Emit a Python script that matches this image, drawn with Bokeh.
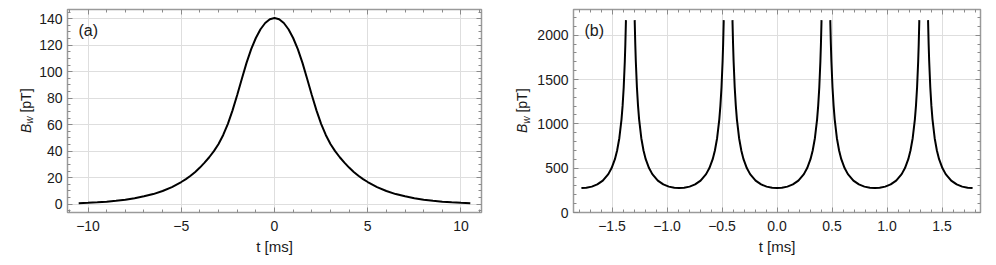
import math
from bokeh.plotting import figure
from bokeh.layouts import row
from bokeh.models import (LinearAxis, SingleIntervalTicker, CustomJSTickFormatter,
                          Label, Range1d, Grid, BasicTickFormatter)
from bokeh.core.properties import value
from bokeh.embed import file_html
from bokeh.resources import INLINE

# ---------------- data ----------------
# panel (a): single pulse
a_t_ms = [-10.5, -10.0, -9.5, -9.0, -8.5, -8.0, -7.5, -7.0, -6.5, -6.0, -5.5,
          -5.0, -4.75, -4.5, -4.25, -4.0, -3.75, -3.5, -3.25, -3.0, -2.75,
          -2.5, -2.25, -2.0, -1.75, -1.5, -1.25, -1.0, -0.75, -0.5, -0.25,
          0.0,
          0.25, 0.5, 0.75, 1.0, 1.25, 1.5, 1.75, 2.0, 2.25, 2.5,
          2.75, 3.0, 3.25, 3.5, 3.75, 4.0, 4.25, 4.5, 4.75, 5.0,
          5.5, 6.0, 6.5, 7.0, 7.5, 8.0, 8.5, 9.0, 9.5, 10.0, 10.5]
a_B_pT = [0.7, 1.0, 1.4, 1.9, 2.6, 3.4, 4.5, 5.9, 7.6, 9.9, 12.9,
          16.7, 18.9, 21.4, 24.3, 27.6, 31.3, 35.4, 40.0, 45.4, 52.2,
          60.6, 70.8, 82.4, 94.7, 106.6, 117.0, 125.4, 132.0, 136.7, 139.6,
          140.5,
          139.6, 136.7, 132.0, 125.4, 117.0, 106.6, 94.7, 82.4, 70.8, 60.6,
          52.2, 45.4, 40.0, 35.4, 31.3, 27.6, 24.3, 21.4, 18.9, 16.7,
          12.9, 9.9, 7.6, 5.9, 4.5, 3.4, 2.6, 1.9, 1.4, 1.0, 0.7]

# panel (b): periodic divergent field, profile read vs. distance from each pole
b_dist_ms = [0.0397, 0.045, 0.05, 0.06, 0.07, 0.08, 0.10, 0.12, 0.14,
             0.17, 0.20, 0.25, 0.30, 0.35, 0.40, 0.4445]
b_B_pT = [2170, 1904, 1707, 1413, 1205, 1051, 838, 699, 601,
          501, 433, 360, 317, 292, 279, 275]
b_poles_ms = [-1.3335, -0.4445, 0.4445, 1.3335]

# ---------------- build panel (b) branches ----------------
def left_branch(p):
    return [p - d for d in reversed(b_dist_ms)], list(reversed(b_B_pT))

def right_branch(p):
    return [p + d for d in b_dist_ms], list(b_B_pT)

bx, by = [], []
lx, ly = left_branch(b_poles_ms[0])
bx += lx; by += ly
for i, p in enumerate(b_poles_ms):
    bx.append(float("nan")); by.append(float("nan"))
    rx, ry = right_branch(p)
    bx += rx; by += ry
    if i + 1 < len(b_poles_ms):
        lx, ly = left_branch(b_poles_ms[i + 1])
        bx += lx[1:]; by += ly[1:]

FONT = "Liberation Sans"
TXT = "#1a1a1a"
FRAME = "#9a9a9a"
TICK = "#8a8a8a"
GRID = "#dedede"
H = 257
TOP, BOT = 9, 45          # frame borders (all frames in the row share them)
FH = H - TOP - BOT        # frame height in px


def style_axis(ax, labels):
    ax.axis_line_color = None
    ax.major_tick_in = 5
    ax.major_tick_out = 0
    ax.minor_tick_in = 3
    ax.minor_tick_out = 0
    ax.major_tick_line_color = TICK
    ax.minor_tick_line_color = TICK
    if labels:
        ax.major_label_text_font = FONT
        ax.major_label_text_font_size = "14px"
        ax.major_label_text_color = TXT
    else:
        ax.major_label_text_font_size = "1px"
        ax.major_label_text_color = None
        ax.major_label_standoff = 0


def make_panel(width, xr, yr, xint, yint, xminor, yminor, xfmt_code,
               bl, br, xs, ys, letter):
    p = figure(width=width, height=H,
               x_range=Range1d(*xr), y_range=Range1d(*yr),
               x_axis_type=None, y_axis_type=None,
               output_backend="svg", toolbar_location=None,
               min_border_left=bl, min_border_right=br,
               min_border_top=TOP, min_border_bottom=BOT)
    p.outline_line_color = FRAME
    p.outline_line_width = 1.5
    xt = SingleIntervalTicker(interval=xint, num_minor_ticks=xminor)
    yt = SingleIntervalTicker(interval=yint, num_minor_ticks=yminor)
    p.add_layout(Grid(dimension=0, ticker=xt, grid_line_color=GRID))
    p.add_layout(Grid(dimension=1, ticker=yt, grid_line_color=GRID))
    xb = LinearAxis(ticker=xt, formatter=CustomJSTickFormatter(code=xfmt_code))
    style_axis(xb, True)
    xb.major_label_standoff = 8
    xb.axis_label = "t [ms]"
    xb.axis_label_text_font = FONT
    xb.axis_label_text_font_size = "15px"
    xb.axis_label_text_font_style = "normal"
    xb.axis_label_text_color = TXT
    xb.axis_label_standoff = 4
    p.add_layout(xb, "below")
    yl = LinearAxis(ticker=yt, formatter=BasicTickFormatter())
    style_axis(yl, True)
    yl.major_label_standoff = 5
    p.add_layout(yl, "left")
    xa = LinearAxis(ticker=xt); style_axis(xa, False); p.add_layout(xa, "above")
    ya = LinearAxis(ticker=yt); style_axis(ya, False); p.add_layout(ya, "right")
    p.line(xs, ys, line_color="black", line_width=2)
    p.add_layout(Label(x=11, y=FH - 20.5, x_units="screen", y_units="screen",
                       text=letter, text_font=FONT, text_font_size="16px",
                       text_color=TXT, text_baseline="middle", text_align="left"))
    return p


def ylabel_fig(width, x_mid):
    """Narrow strip (frame aligned with the panels) carrying the label B_w [pT].
    Strip coordinates are pixels: x from the strip's left, y up from the frame bottom."""
    f = figure(width=width, height=H, x_range=Range1d(0, width), y_range=Range1d(0, FH),
               x_axis_type=None, y_axis_type=None, output_backend="svg",
               toolbar_location=None, min_border=0)
    f.outline_line_color = None
    y0 = FH / 2.0 - 22.0
    common = dict(angle=math.pi / 2, text_font=value(FONT), text_color=TXT,
                  text_align="left", text_baseline="middle")
    f.text(x=[x_mid], y=[y0], text=["B"], text_font_style="italic",
           text_font_size="14px", **common)
    f.text(x=[x_mid + 4.3], y=[y0 + 9.3], text=["w"], text_font_style="italic",
           text_font_size="10px", **common)
    f.text(x=[x_mid], y=[y0 + 9.3 + 7.2 + 3.9], text=["[pT]"],
           text_font_style="normal", text_font_size="14px", **common)
    return f


fmt0 = "return (tick < 0 ? '\\u2212' : '') + Math.abs(tick).toFixed(0);"
fmt1 = "return (tick < 0 ? '\\u2212' : '') + Math.abs(tick).toFixed(1);"

la = ylabel_fig(36, 25)
p1 = make_panel(460, (-11.1, 11.1), (-6.3, 146.9), 5, 20, 5, 4, fmt0,
                31, 15, a_t_ms, a_B_pT, "(a)")
lb = ylabel_fig(36, 25.3)
p2 = make_panel(462, (-1.85, 1.85), (0.0, 2290.0), 0.5, 500, 5, 5, fmt1,
                41, 14, bx, by, "(b)")

layout = row(la, p1, lb, p2)
open("out.html", "w").write(file_html(layout, INLINE))
